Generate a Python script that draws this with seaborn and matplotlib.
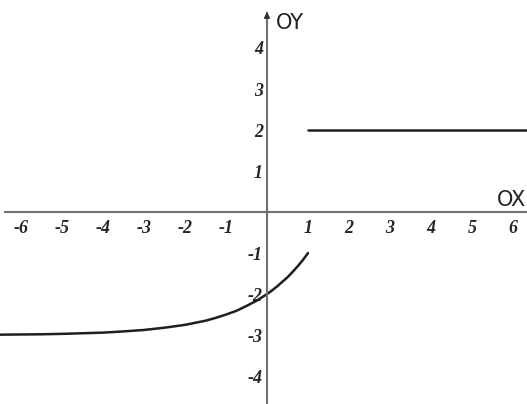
import matplotlib
matplotlib.use("Agg")
import matplotlib.pyplot as plt
import seaborn as sns
import pandas as pd

# curve (left branch, x <= 1)
curve_x = [-6.55, -6, -5.5, -5, -4.5, -4, -3.5, -3, -2.5, -2, -1.75, -1.5, -1.25, -1,
           -0.75, -0.5, -0.25, 0, 0.125, 0.25, 0.375, 0.5, 0.625, 0.75, 0.875, 1]
curve_y = [-2.99, -2.985, -2.98, -2.97, -2.955, -2.94, -2.91, -2.875, -2.82, -2.75,
           -2.70, -2.65, -2.58, -2.5, -2.41, -2.29, -2.16, -2.0, -1.91, -1.81,
           -1.70, -1.59, -1.46, -1.32, -1.17, -1.0]
# horizontal branch y = 2 for x >= 1
flat_x = [1, 6.4]
flat_y = [2, 2]

x_ticks = [-6, -5, -4, -3, -2, -1, 1, 2, 3, 4, 5, 6]
y_ticks = [-4, -3, -2, -1, 1, 2, 3, 4]

sns.set_style("white")
fig = plt.figure(figsize=(5.27, 4.04), dpi=100)
ax = fig.add_axes([0, 0, 1, 1])

df1 = pd.DataFrame({"x": curve_x, "y": curve_y})
df2 = pd.DataFrame({"x": flat_x, "y": flat_y})
sns.lineplot(data=df1, x="x", y="y", sort=False, color="#1e1e1e", lw=1.8, ax=ax)
sns.lineplot(data=df2, x="x", y="y", sort=False, color="#1e1e1e", lw=1.8, ax=ax)

ax.set_xlim(-6.51, 6.34)
ax.set_ylim(-4.68, 5.17)

axis_col = "#707070"
ax.spines["left"].set_position(("data", 0))
ax.spines["bottom"].set_position(("data", 0))
ax.spines["right"].set_visible(False)
ax.spines["top"].set_visible(False)
for s in ["left", "bottom"]:
    ax.spines[s].set_color(axis_col)
    ax.spines[s].set_linewidth(1.5)
ax.spines["left"].set_bounds(-4.68, 4.85)
ax.spines["bottom"].set_bounds(-6.4, 6.34)

# arrow head on the OY axis
ax.annotate("", xy=(0, 4.95), xytext=(0, 4.7),
            arrowprops=dict(arrowstyle="-|>", color="#333333", lw=1.2,
                            mutation_scale=8))

ax.set_xticks(x_ticks)
ax.set_yticks(y_ticks)
ax.set_xticklabels([str(v) for v in x_ticks])
ax.set_yticklabels([str(v) for v in y_ticks])
tick_font = dict(family="Liberation Serif", weight="bold", style="italic", size=13)
for lab in ax.get_xticklabels() + ax.get_yticklabels():
    lab.set_fontproperties(matplotlib.font_manager.FontProperties(**tick_font))
ax.tick_params(axis="x", direction="inout", length=6, width=1, color=axis_col, pad=3)
ax.tick_params(axis="y", direction="inout", length=6, width=1, color=axis_col, pad=0)
ax.set_xlabel("")
ax.set_ylabel("")

ax.text(0.22, 4.6, "OY", fontsize=15, family="DejaVu Sans", va="center", ha="left",
        color="#222222")
ax.text(5.6, 0.3, "OX", fontsize=15, family="DejaVu Sans", va="center", ha="left",
        color="#222222")

fig.savefig("out.png", dpi=100)
